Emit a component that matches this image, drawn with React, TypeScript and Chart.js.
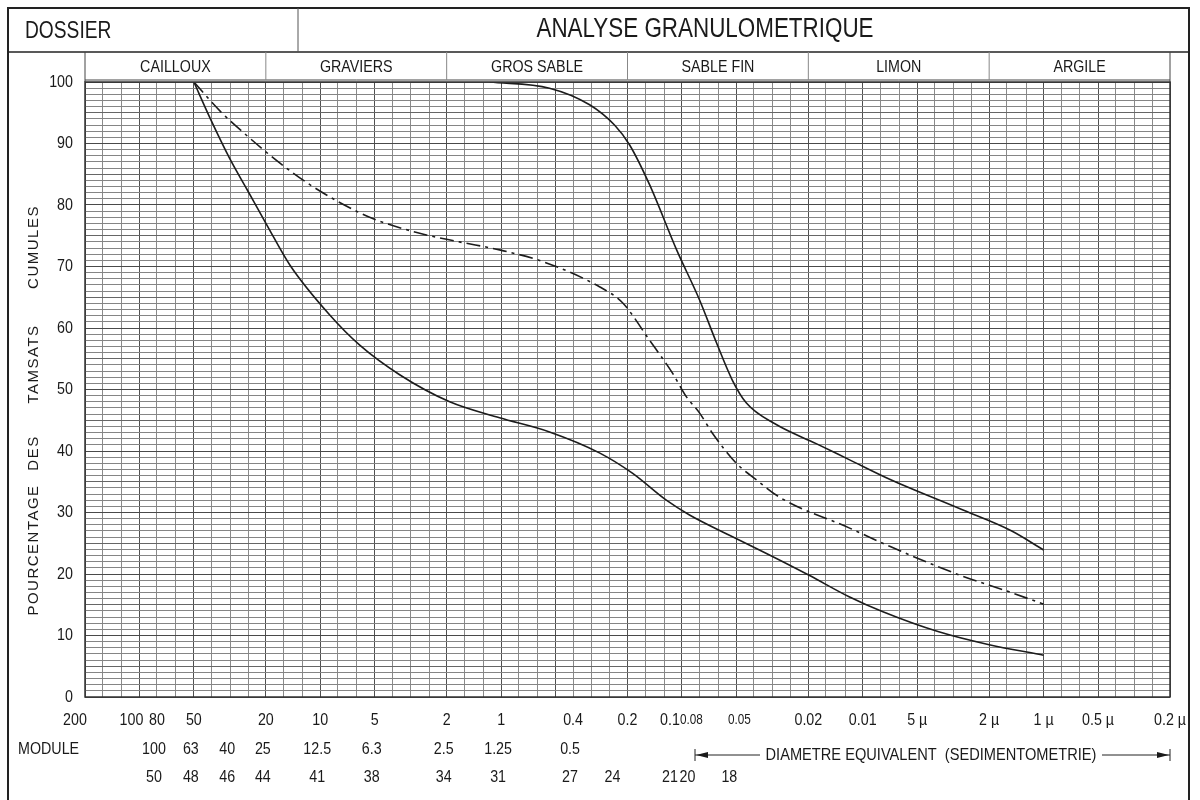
import React, { useEffect, useRef } from 'react';
import { Chart, registerables } from 'chart.js';

Chart.register(...registerables);

// ---------- DATA ----------
// particle size in mm (x, log, reversed) vs cumulative % passing (y)
const fineSizes = [1.157, 0.54, 0.324, 0.236, 0.195, 0.151, 0.107, 0.08, 0.0644, 0.0526, 0.044, 0.0301, 0.0181, 0.0119, 0.0071, 0.0029, 0.0015, 0.001];
const finePct = [100, 99.0, 96.3, 93.0, 89.8, 83.3, 72.7, 64.6, 57.6, 51.5, 47.8, 44.3, 41.2, 38.6, 35.4, 30.6, 27.0, 23.9];

const midSizes = [50, 35.9, 25.5, 16.7, 11.0, 7.14, 5.13, 2.82, 1.7, 1.02, 0.575, 0.286, 0.213, 0.151, 0.113, 0.0944, 0.08, 0.0678, 0.05, 0.0387, 0.0289, 0.0119, 0.0071, 0.0029, 0.00155, 0.001];
const midPct = [100, 95.3, 91.3, 86.8, 83.0, 79.8, 77.8, 75.4, 74.0, 72.7, 70.7, 66.7, 64.1, 58.0, 52.7, 48.8, 46.2, 42.9, 38.0, 35.3, 32.5, 27.5, 24.5, 19.8, 17.1, 15.1];

const lowSizes = [50, 40.2, 31.6, 25.5, 19.7, 14.7, 8.86, 6.05, 3.64, 1.925, 1.02, 0.54, 0.286, 0.188, 0.122, 0.0908, 0.0546, 0.0328, 0.0198, 0.0119, 0.0078, 0.0038, 0.002, 0.001];
const lowPct = [100, 93.8, 87.5, 82.6, 76.7, 70.2, 62.1, 57.2, 52.4, 48.0, 45.4, 43.1, 39.7, 36.4, 32.0, 29.6, 26.3, 23.1, 19.8, 16.3, 13.9, 10.6, 8.5, 6.8];

// size-class bands
const bandLimits = [200, 20, 2, 0.2, 0.02, 0.002, 0.0002];
const bandNames = ['CAILLOUX', 'GRAVIERS', 'GROS SABLE', 'SABLE FIN', 'LIMON', 'ARGILE'];

// x tick labels (first row)
const sizeTickValues = [200, 100, 80, 50, 20, 10, 5, 2, 1, 0.4, 0.2, 0.1, 0.08, 0.05, 0.02, 0.01, 0.005, 0.002, 0.001, 0.0005, 0.0002];
const sizeTickLabels = ['200', '100', '80', '50', '20', '10', '5', '2', '1', '0.4', '0.2', '0.1', '0.08', '0.05', '0.02', '0.01', '5 µ', '2 µ', '1 µ', '0.5 µ', '0.2 µ'];

// module rows
const modulePositions = [80, 50, 31.5, 20, 10, 5, 2, 1, 0.4, 0.2, 0.1, 0.08, 0.05];
const moduleSieves = ['100', '63', '40', '25', '12.5', '6.3', '2.5', '1.25', '0.5'];
const moduleNumbers = ['50', '48', '46', '44', '41', '38', '34', '31', '27', '24', '21', '20', '18'];

// y labels
const yLabelValues = [0, 10, 20, 30, 40, 50, 60, 70, 80, 90, 100];

// grid: R10 sieve series per decade
const gridMantissas = [1, 1.25, 1.6, 2, 2.5, 3.15, 4, 5, 6.3, 8];
const gridDecades = [0.0001, 0.001, 0.01, 0.1, 1, 10, 100];

const FONT = '"Liberation Sans", Arial, sans-serif';

const toPoints = (xs: number[], ys: number[]) => xs.map((x, i) => ({ x, y: ys[i] }));

// condensed text: horizontally squeezed Liberation Sans
const txt = (
  ctx: CanvasRenderingContext2D,
  s: string,
  x: number,
  y: number,
  size: number,
  align: CanvasTextAlign = 'center',
  sx = 0.84,
) => {
  ctx.save();
  ctx.font = `${size}px ${FONT}`;
  ctx.textAlign = align;
  ctx.textBaseline = 'middle';
  ctx.translate(x, y);
  ctx.scale(sx, 1);
  ctx.fillText(s, 0, 0);
  ctx.restore();
};

const overlay = {
  id: 'overlay',
  afterDraw(chart: any) {
    const ctx: CanvasRenderingContext2D = chart.ctx;
    const xs = chart.scales.x;
    const ys = chart.scales.y;
    const ca = chart.chartArea;
    const line = (x1: number, y1: number, x2: number, y2: number) => {
      ctx.beginPath();
      ctx.moveTo(x1, y1);
      ctx.lineTo(x2, y2);
      ctx.stroke();
    };
    ctx.save();
    ctx.fillStyle = '#1a1a1a';
    ctx.strokeStyle = '#222';

    // outer frame
    ctx.lineWidth = 2;
    ctx.beginPath();
    ctx.moveTo(8, 800);
    ctx.lineTo(8, 8);
    ctx.lineTo(1189, 8);
    ctx.lineTo(1189, 800);
    ctx.stroke();
    ctx.lineWidth = 1.5;
    line(8, 52, 1189, 52);
    ctx.lineWidth = 1;
    ctx.strokeStyle = '#555';
    line(298, 8, 298, 52);

    // header
    txt(ctx, 'DOSSIER', 25, 31, 24, 'left', 0.8);
    txt(ctx, 'ANALYSE GRANULOMETRIQUE', 705, 30, 27, 'center', 0.83);

    // band row
    ctx.strokeStyle = '#444';
    ctx.lineWidth = 1;
    line(ca.left, 52, ca.left, ca.top);
    line(ca.right, 52, ca.right, ca.top);
    line(ca.left, 80, ca.right, 80);
    for (let i = 0; i < bandNames.length; i++) {
      const a = xs.getPixelForValue(bandLimits[i]);
      const b = xs.getPixelForValue(bandLimits[i + 1]);
      if (i > 0) {
        ctx.strokeStyle = '#888';
        line(a, 52, a, 80);
      }
      txt(ctx, bandNames[i], (a + b) / 2, 67, 17, 'center', 0.84);
    }

    // chart area border
    ctx.strokeStyle = '#333';
    ctx.lineWidth = 1.5;
    ctx.strokeRect(ca.left, ca.top, ca.right - ca.left, ca.bottom - ca.top);

    // y labels
    yLabelValues.forEach((v) => txt(ctx, String(v), ca.left - 12, ys.getPixelForValue(v), 17, 'right', 0.84));

    // y title
    ctx.save();
    ctx.translate(34, 0);
    ctx.rotate(-Math.PI / 2);
    ctx.font = `15px ${FONT}`;
    (ctx as any).letterSpacing = '1.5px';
    ctx.textAlign = 'center';
    ctx.textBaseline = 'middle';
    const words: [string, number][] = [['POURCENTAGE', 550], ['DES', 453], ['TAMSATS', 364], ['CUMULES', 247]];
    words.forEach(([w, y]) => ctx.fillText(w, -y, 0));
    ctx.restore();

    // x labels row 1
    sizeTickValues.forEach((v, i) => {
      const lab = sizeTickLabels[i];
      let x = xs.getPixelForValue(v);
      if (v === 200) x -= 10;
      if (v === 100) x -= 8;
      if (v === 0.1) x -= 12;
      if (v === 0.08) x -= 8;
      if (v === 0.05) x += 3;
      const small = lab === '0.08' || lab === '0.05';
      txt(ctx, lab, x, 720, small ? 14 : 17, 'center', 0.84);
    });

    // module rows
    txt(ctx, 'MODULE', 18, 749, 17, 'left', 0.84);
    moduleSieves.forEach((s, i) => txt(ctx, s, xs.getPixelForValue(modulePositions[i]) - 3, 749, 17, 'center', 0.84));
    moduleNumbers.forEach((s, i) => {
      let x = xs.getPixelForValue(modulePositions[i]) - 3;
      if (s === '24') x -= 12;
      if (s === '21') x -= 9;
      if (s === '20') x -= 9;
      if (s === '18') x -= 4;
      txt(ctx, s, x, 777, 17, 'center', 0.84);
    });

    // sedimentometry arrow
    const ax1 = 695;
    const ax2 = xs.getPixelForValue(0.0002);
    const ay = 755;
    ctx.strokeStyle = '#222';
    ctx.lineWidth = 1;
    line(ax1, ay - 6, ax1, ay + 6);
    line(ax2, ay - 6, ax2, ay + 6);
    line(ax1, ay, 760, ay);
    line(1102, ay, ax2, ay);
    ctx.beginPath();
    ctx.moveTo(ax1 + 1, ay);
    ctx.lineTo(ax1 + 13, ay - 3);
    ctx.lineTo(ax1 + 13, ay + 3);
    ctx.closePath();
    ctx.fill();
    ctx.beginPath();
    ctx.moveTo(ax2 - 1, ay);
    ctx.lineTo(ax2 - 13, ay - 3);
    ctx.lineTo(ax2 - 13, ay + 3);
    ctx.closePath();
    ctx.fill();
    txt(ctx, 'DIAMETRE EQUIVALENT  (SEDIMENTOMETRIE)', 931, ay, 17, 'center', 0.86);

    ctx.restore();
  },
};

export default function App() {
  const ref = useRef<HTMLCanvasElement>(null);
  useEffect(() => {
    if (!ref.current) return;
    const gridValues: number[] = [];
    gridDecades.forEach((d) => gridMantissas.forEach((m) => {
      const v = +(m * d).toPrecision(4);
      if (v >= 0.0002 && v <= 200) gridValues.push(v);
    }));
    const yGrid: number[] = [];
    for (let i = 0; i <= 100; i++) yGrid.push(i);

    const common = {
      borderColor: '#1c1c1c',
      borderWidth: 1.6,
      pointRadius: 0,
      fill: false,
      cubicInterpolationMode: 'monotone' as const,
    };
    const chart = new Chart(ref.current, {
      type: 'line',
      data: {
        datasets: [
          { ...common, label: 'fine', data: toPoints(fineSizes, finePct) },
          { ...common, label: 'mid', data: toPoints(midSizes, midPct), borderDash: [14, 5, 3, 5] },
          { ...common, label: 'low', data: toPoints(lowSizes, lowPct) },
        ],
      },
      options: {
        responsive: false,
        animation: false,
        devicePixelRatio: 1,
        layout: { padding: { left: 85, top: 82, right: 30, bottom: 103 } },
        plugins: { legend: { display: false }, tooltip: { enabled: false } },
        scales: {
          x: {
            type: 'logarithmic',
            min: 0.0002,
            max: 200,
            reverse: true,
            afterBuildTicks: (axis: any) => {
              axis.ticks = gridValues.map((v) => ({ value: v }));
            },
            ticks: { display: false },
            border: { display: false },
            grid: {
              drawTicks: false,
              lineWidth: 1,
              color: (c: any) => {
                const v = c.tick ? c.tick.value : 0;
                const m = +(v / Math.pow(10, Math.floor(Math.log10(v) + 1e-9))).toFixed(2);
                return m === 1 || m === 2 || m === 5 ? '#505050' : '#8a8a8a';
              },
            },
          },
          y: {
            type: 'linear',
            min: 0,
            max: 100,
            afterBuildTicks: (axis: any) => {
              axis.ticks = yGrid.map((v) => ({ value: v }));
            },
            ticks: { display: false },
            border: { display: false },
            grid: {
              drawTicks: false,
              lineWidth: 1,
              color: (c: any) => {
                const v = c.tick ? c.tick.value : 0;
                return v % 10 === 0 ? '#4a4a4a' : v % 5 === 0 ? '#666' : '#858585';
              },
            },
          },
        },
      },
      plugins: [overlay],
    });
    return () => chart.destroy();
  }, []);
  return (
    <canvas
      ref={ref}
      width={1200}
      height={800}
      style={{ position: 'fixed', left: 0, top: 0, width: 1200, height: 800, display: 'block', background: '#fff' }}
    />
  );
}
